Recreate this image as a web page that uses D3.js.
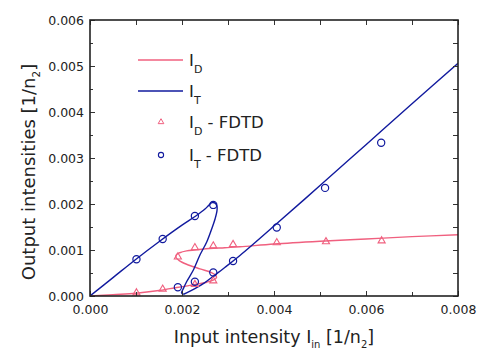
<!DOCTYPE html>
<html><head><meta charset="utf-8">
<script src="https://cdn.jsdelivr.net/npm/d3@7"></script>
<style>
html,body{margin:0;padding:0;background:#fff;}
svg text{font-family:"DejaVu Sans",sans-serif;fill:#222;}
</style></head>
<body>
<svg id="c" width="478" height="349"></svg>
<script>
// ---- data ----
const xTickValues = [0, 0.002, 0.004, 0.006, 0.008];
const xMinorTicks = [0.001, 0.003, 0.005, 0.007];
const yTickValues = [0, 0.001, 0.002, 0.003, 0.004, 0.005, 0.006];
const yMinorTicks = [0.0005, 0.0015, 0.0025, 0.0035, 0.0045, 0.0055];

// theory I_T (parametric S-curve)
const itX = [0, 0.0005, 0.001, 0.0015, 0.002, 0.0023, 0.0025, 0.00258, 0.00265, 0.00272, 0.00276, 0.00276, 0.00272, 0.00266, 0.00254, 0.00239, 0.00225, 0.0021, 0.00202, 0.00199, 0.00203, 0.0021, 0.00228, 0.00248, 0.00268, 0.00293, 0.00326, 0.004, 0.005, 0.006, 0.007, 0.008];
const itY = [0, 0.0004, 0.0008, 0.00118, 0.00154, 0.00174, 0.00189, 0.00197, 0.00203, 0.00202, 0.00195, 0.00185, 0.00168, 0.0015, 0.00118, 0.00089, 0.00057, 0.00031, 0.00014, 0.00007, 0.00004, 0.00007, 0.00016, 0.00028, 0.00043, 0.00062, 0.00088, 0.00152, 0.0024, 0.00329, 0.00418, 0.00506];
// theory I_D
const idX = [0, 0.0005, 0.001, 0.0015, 0.00174, 0.00217, 0.00254, 0.00269, 0.00275, 0.00273, 0.00264, 0.00239, 0.0021, 0.00194, 0.00187, 0.00188, 0.00195, 0.0021, 0.00246, 0.00293, 0.00326, 0.004, 0.005, 0.006, 0.007, 0.008];
const idY = [0, 0.00003, 0.00006, 0.00012, 0.00016, 0.00023, 0.0003, 0.00035, 0.0004, 0.00045, 0.00051, 0.00059, 0.00069, 0.00077, 0.00084, 0.0009, 0.00094, 0.00098, 0.00102, 0.00105, 0.00107, 0.00113, 0.00119, 0.00124, 0.00129, 0.00133];
// FDTD
const fdIdX = [0.00101, 0.00158, 0.00228, 0.00268, 0.00191, 0.00228, 0.00268, 0.00311, 0.00406, 0.00513, 0.00634];
const fdIdY = [0.00007, 0.00015, 0.00025, 0.00033, 0.00085, 0.00105, 0.00109, 0.00112, 0.00116, 0.00118, 0.0012];
const fdItX = [0.00101, 0.00158, 0.00228, 0.00268, 0.00191, 0.00228, 0.00268, 0.00311, 0.00406, 0.00511, 0.00633];
const fdItY = [0.0008, 0.00124, 0.00174, 0.00198, 0.00019, 0.00031, 0.00051, 0.00076, 0.00149, 0.00235, 0.00333];

const pink = "#f0607f", blue = "#111a9e";

// ---- layout ----
const svg = d3.select("#c");
const L = 90, R = 458, T = 20, B = 296;
const x = d3.scaleLinear().domain([0, 0.008]).range([L, R]);
const y = d3.scaleLinear().domain([0, 0.006]).range([B, T]);

svg.append("clipPath").attr("id", "clp").append("rect")
  .attr("x", L).attr("y", T).attr("width", R - L).attr("height", B - T);

const line = d3.line().x(d => x(d[0])).y(d => y(d[1])).curve(d3.curveCatmullRom.alpha(0.5));
const plot = svg.append("g").attr("clip-path", "url(#clp)");
plot.append("path").datum(d3.zip(idX, idY)).attr("d", line)
  .attr("fill", "none").attr("stroke", pink).attr("stroke-width", 1.4);
plot.append("path").datum(d3.zip(itX, itY)).attr("d", line)
  .attr("fill", "none").attr("stroke", blue).attr("stroke-width", 1.4);

const tri = d3.symbol().type(d3.symbolTriangle).size(22);
svg.append("g").selectAll("path").data(d3.zip(fdIdX, fdIdY)).join("path")
  .attr("d", tri).attr("transform", d => `translate(${x(d[0])},${y(d[1])})`)
  .attr("fill", "none").attr("stroke", pink).attr("stroke-width", 1.1);
svg.append("g").selectAll("circle").data(d3.zip(fdItX, fdItY)).join("circle")
  .attr("cx", d => x(d[0])).attr("cy", d => y(d[1])).attr("r", 3.6)
  .attr("fill", "none").attr("stroke", blue).attr("stroke-width", 1.2);

// ---- axes ----
function styleAxis(sel) {
  sel.select(".domain").remove();
  sel.selectAll(".tick line").attr("stroke", "#333").attr("stroke-width", 1);
  sel.selectAll(".tick text").style("font-size", "12.5px").attr("fill", "#222");
}
const fmt = d3.format(".3f");
svg.append("g").attr("transform", `translate(0,${B})`)
  .call(d3.axisBottom(x).tickValues(xTickValues).tickFormat(fmt).tickSizeInner(-5).tickPadding(9))
  .call(styleAxis);
svg.append("g").attr("transform", `translate(0,${B})`)
  .call(d3.axisBottom(x).tickValues(xMinorTicks).tickFormat("").tickSizeInner(-4))
  .call(styleAxis);
svg.append("g").attr("transform", `translate(0,${T})`)
  .call(d3.axisTop(x).tickValues(xTickValues.concat(xMinorTicks)).tickFormat("").tickSizeInner(-5))
  .call(styleAxis);
svg.append("g").attr("transform", `translate(${L},0)`)
  .call(d3.axisLeft(y).tickValues(yTickValues).tickFormat(fmt).tickSizeInner(-5).tickPadding(6))
  .call(styleAxis);
svg.append("g").attr("transform", `translate(${L},0)`)
  .call(d3.axisLeft(y).tickValues(yMinorTicks).tickFormat("").tickSizeInner(-3))
  .call(styleAxis);
svg.append("g").attr("transform", `translate(${R},0)`)
  .call(d3.axisRight(y).tickValues(yTickValues.concat(yMinorTicks)).tickFormat("").tickSizeInner(-5))
  .call(styleAxis);

svg.append("rect").attr("x", L).attr("y", T).attr("width", R - L).attr("height", B - T)
  .attr("fill", "none").attr("stroke", "#222").attr("stroke-width", 1.6);

// ---- axis titles ----
const xt = svg.append("text").attr("x", (L + R) / 2).attr("y", 343)
  .attr("text-anchor", "middle").style("font-size", "17.5px");
xt.append("tspan").text("Input intensity I");
xt.append("tspan").attr("dy", 5).style("font-size", "10px").text("in");
xt.append("tspan").attr("dy", -5).text(" [1/n");
xt.append("tspan").attr("dy", 5).style("font-size", "10px").text("2");
xt.append("tspan").attr("dy", -5).text("]");

const yt = svg.append("text").attr("transform", `translate(35,172) rotate(-90)`)
  .attr("text-anchor", "middle").style("font-size", "18px");
yt.append("tspan").text("Output intensities [1/n");
yt.append("tspan").attr("dy", 5).style("font-size", "10.5px").text("2");
yt.append("tspan").attr("dy", -5).text("]");

// ---- legend ----
const leg = svg.append("g");
const items = [
  {type: "line", color: pink, sub: "D", rest: "", y: 60},
  {type: "line", color: blue, sub: "T", rest: "", y: 91},
  {type: "tri", color: pink, sub: "D", rest: " - FDTD", y: 122},
  {type: "circ", color: blue, sub: "T", rest: " - FDTD", y: 155}
];
items.forEach(it => {
  if (it.type === "line") {
    leg.append("line").attr("x1", 138).attr("x2", 183).attr("y1", it.y).attr("y2", it.y)
      .attr("stroke", it.color).attr("stroke-width", 1.4);
  } else if (it.type === "tri") {
    leg.append("path").attr("d", d3.symbol().type(d3.symbolTriangle).size(14)())
      .attr("transform", `translate(161,${it.y})`).attr("fill", "none").attr("stroke", it.color).attr("stroke-width", 1);
  } else {
    leg.append("circle").attr("cx", 161).attr("cy", it.y).attr("r", 2.6)
      .attr("fill", "none").attr("stroke", it.color).attr("stroke-width", 1.1);
  }
  const t = leg.append("text").attr("x", 189).attr("y", it.y + 6).style("font-size", "16.5px");
  t.append("tspan").text("I");
  t.append("tspan").attr("dy", 7).style("font-size", "11px").text(it.sub);
  if (it.rest) t.append("tspan").attr("dy", -7).text(it.rest);
});
</script>
</body></html>
